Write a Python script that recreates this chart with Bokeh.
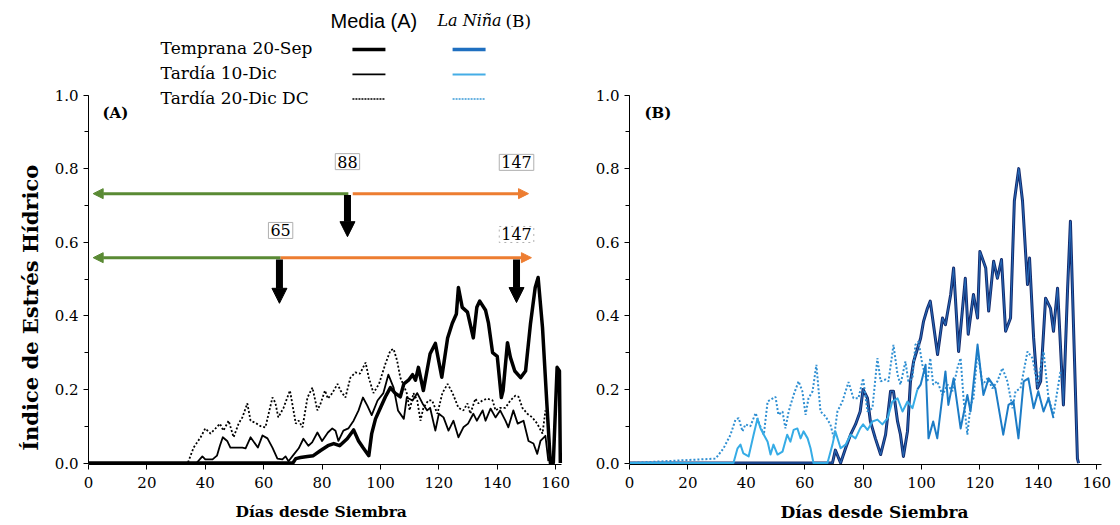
import math
from bokeh.plotting import figure
from bokeh.layouts import row
from bokeh.models import (Range1d, Label, Arrow, NormalHead, SingleIntervalTicker,
                          PrintfTickFormatter)
from bokeh.embed import file_html
from bokeh.resources import INLINE

# ---------------- data (day, stress index) ----------------
A_TEMPRANA = [(0, 0), (70, 0), (71, 0.012), (72.6, 0.015), (75, 0.018), (77, 0.02), (79.5, 0.034),
              (82, 0.047), (84, 0.053), (86, 0.047), (88.6, 0.066), (90.8, 0.09), (92.5, 0.06),
              (94, 0.042), (96, 0.02), (97, 0.08), (98.3, 0.12), (100, 0.15), (101.7, 0.18),
              (103.4, 0.205), (105, 0.19), (106.8, 0.18), (108, 0.215), (109.6, 0.225), (111, 0.24),
              (112, 0.225), (113, 0.26), (114.7, 0.197), (117, 0.297), (118.8, 0.325), (121, 0.233),
              (123, 0.34), (124.6, 0.38), (126, 0.405), (126.7, 0.477), (128, 0.423), (129.8, 0.41),
              (131.8, 0.34), (133, 0.423), (134, 0.44), (136, 0.415), (137, 0.38), (138.4, 0.30),
              (140, 0.29), (141.4, 0.178), (142, 0.197), (143.5, 0.327), (144.5, 0.287), (146, 0.25),
              (148, 0.232), (149.7, 0.25), (151.4, 0.38), (153, 0.477), (154, 0.504), (155.5, 0.368),
              (157, 0.16), (158.2, 0.0), (159.2, 0.0), (160.5, 0.26), (161.3, 0.25), (161.6, 0.0)]

A_TARDIA10 = [(0, 0), (37, 0), (39, 0.018), (40, 0.01), (42.5, 0.01), (44, 0.02), (45, 0.047),
              (46, 0.07), (47.5, 0.06), (48.6, 0.042), (50, 0.042), (52.7, 0.042), (53.8, 0.04),
              (55.5, 0.07), (58, 0.042), (59.6, 0.075), (61.3, 0.067), (63, 0.042), (64.7, 0.012),
              (66.4, 0.01), (67.5, 0.018), (68.5, 0.005), (70, 0.02), (72, 0.04), (73.6, 0.066),
              (75.3, 0.047), (76.6, 0.056), (78.4, 0.083), (80, 0.06), (82, 0.083), (83.5, 0.094),
              (84.6, 0.088), (85.6, 0.06), (87.3, 0.088), (89, 0.094), (90.8, 0.115), (92.5, 0.143),
              (94, 0.178), (95.5, 0.156), (97, 0.13), (99, 0.17), (101, 0.19), (102.7, 0.24),
              (104.5, 0.205), (106, 0.143), (108, 0.12), (109, 0.178), (111, 0.17), (112.6, 0.19),
              (114.4, 0.162), (116, 0.143), (117, 0.15), (118.8, 0.088), (120, 0.134), (121.6, 0.124),
              (123.3, 0.088), (125, 0.115), (126.7, 0.07), (128.4, 0.097), (130, 0.107), (131.8, 0.134),
              (133, 0.115), (135, 0.143), (136, 0.115), (137.7, 0.148), (139.4, 0.124), (141, 0.143),
              (142.8, 0.115), (143.8, 0.097), (145.5, 0.143), (147, 0.107), (149, 0.115), (150.7, 0.06),
              (152.4, 0.053), (153.7, 0.025), (154.8, 0.06), (156.5, 0.074), (157.5, 0.005)]

A_TARDIA20 = [(0, 0), (34, 0), (36, 0.042), (38.4, 0.07), (40, 0.094), (41.8, 0.08), (43.5, 0.094),
              (45, 0.107), (46.2, 0.088), (48, 0.115), (49.7, 0.07), (51.4, 0.107), (52.7, 0.124),
              (54.4, 0.162), (55.5, 0.115), (57, 0.11), (59, 0.1), (60.6, 0.097), (63, 0.178),
              (64, 0.164), (65, 0.124), (66.8, 0.15), (69, 0.197), (71, 0.107), (72, 0.115),
              (73.3, 0.097), (75, 0.178), (76.7, 0.205), (78.4, 0.143), (79.5, 0.162), (81, 0.197),
              (82, 0.175), (83.5, 0.19), (85.3, 0.215), (86.3, 0.197), (88, 0.178), (89.7, 0.232),
              (91.4, 0.246), (93, 0.243), (94.9, 0.273), (96, 0.232), (97.6, 0.19), (99.5, 0.215),
              (101.7, 0.27), (103.4, 0.306), (104.5, 0.31), (105.7, 0.278), (106.8, 0.232), (108, 0.21),
              (109, 0.19), (110, 0.143), (111.3, 0.19), (112.6, 0.17), (113.7, 0.115), (114.7, 0.15),
              (116.4, 0.17), (117.7, 0.17), (119.5, 0.134), (121.2, 0.19), (123, 0.215), (124.7, 0.19),
              (125.7, 0.17), (126.7, 0.15), (128.4, 0.143), (129.8, 0.162), (130.8, 0.134), (132.5, 0.175),
              (133.6, 0.162), (134.9, 0.17), (136.6, 0.175), (138.4, 0.17), (139.4, 0.143), (141, 0.15),
              (142.8, 0.15), (144.5, 0.17), (146.2, 0.183), (147.3, 0.18), (148.6, 0.15), (150.3, 0.134),
              (152, 0.124), (153.7, 0.107), (155.5, 0.08), (156.5, 0.143)]

B_TEMPRANA = [(0, 0), (69.5, 0), (70.5, 0.035), (72.3, 0), (74, 0.04), (75.7, 0.077), (77.4, 0.105),
              (79, 0.14), (80, 0.2), (81.5, 0.176), (82.5, 0.113), (84.2, 0.067), (86, 0.023),
              (87.7, 0.077), (89.4, 0.195), (90.4, 0.195), (91.8, 0.113), (92.8, 0.077), (93.8, 0.018),
              (95.2, 0.086), (96.2, 0.22), (97.3, 0.276), (98.6, 0.31), (99.7, 0.339), (100.7, 0.385),
              (102, 0.42), (103, 0.44), (105.5, 0.295), (107.2, 0.394), (108.2, 0.376), (110, 0.458),
              (111, 0.53), (112.7, 0.303), (115, 0.502), (116, 0.35), (117.8, 0.458), (119.2, 0.394),
              (120, 0.575), (122, 0.53), (123, 0.413), (124.7, 0.548), (126, 0.502), (127.4, 0.553),
              (128.8, 0.358), (130.5, 0.394), (131.8, 0.712), (133.3, 0.8), (134.6, 0.712), (136.3, 0.485),
              (137, 0.557), (138.4, 0.34), (139.7, 0.203), (140.8, 0.222), (142.5, 0.448), (144.2, 0.42),
              (145.2, 0.358), (146.6, 0.475), (148.6, 0.158), (150, 0.467), (151, 0.657), (153.4, 0.012),
              (153.8, 0)]

B_TARDIA10 = [(0, 0), (35.6, 0), (37, 0.04), (38, 0.05), (39, 0.026), (40.8, 0.018), (42.5, 0.077),
              (43.8, 0.12), (44.9, 0.094), (46, 0.077), (47.3, 0.058), (48.3, 0.023), (49.3, 0.05),
              (50.7, 0.023), (52.4, 0.031), (54, 0.077), (55.1, 0.058), (56.2, 0.09), (57.5, 0.094),
              (58.6, 0.067), (59.6, 0.086), (61, 0.067), (62, 0.04), (63, 0), (67.8, 0), (69.5, 0.05),
              (70.5, 0.086), (72.3, 0.04), (74, 0.05), (75.7, 0.077), (77.4, 0.067), (79, 0.094),
              (80, 0.105), (81.5, 0.09), (83.2, 0.113), (84.9, 0.118), (86.6, 0.105), (88.4, 0.122),
              (90, 0.167), (91.8, 0.176), (93.5, 0.14), (95.2, 0.167), (96.9, 0.149), (98.6, 0.2),
              (99.7, 0.213), (101.4, 0.267), (102.4, 0.067), (104, 0.113), (105.4, 0.067), (108.2, 0.249),
              (109.2, 0.158), (111, 0.23), (113.4, 0.094), (115.7, 0.185), (116.8, 0.14), (119.2, 0.322),
              (121.2, 0.185), (123, 0.23), (125.3, 0.203), (128, 0.077), (129.8, 0.158), (131.5, 0.167),
              (133.2, 0.067), (135, 0.222), (136.6, 0.23), (138.4, 0.149), (140, 0.195), (141.8, 0.14),
              (143.5, 0.176), (145.2, 0.122)]

B_TARDIA20 = [(0, 0), (29.5, 0.012), (32.2, 0.04), (34.6, 0.077), (36.3, 0.118), (37.4, 0.122),
              (38.7, 0.086), (39.7, 0.105), (41.4, 0.1), (43.2, 0.136), (44.5, 0.105), (46, 0.077),
              (47.3, 0.167), (48.3, 0.172), (50, 0.18), (51, 0.131), (52.4, 0.14), (53.4, 0.094),
              (54.5, 0.14), (56.2, 0.185), (57.9, 0.222), (59.2, 0.195), (60.3, 0.131), (61.3, 0.176),
              (62.7, 0.195), (64, 0.267), (65.4, 0.14), (67.1, 0.127), (68.8, 0.105), (70, 0.067),
              (71.2, 0.14), (72.9, 0.167), (75, 0.22), (76.7, 0.176), (78.4, 0.176), (80, 0.23),
              (81.5, 0.14), (83.2, 0.149), (84.9, 0.285), (86, 0.222), (87.7, 0.227), (88.7, 0.222),
              (90.4, 0.321), (91.8, 0.24), (92.8, 0.213), (94.5, 0.276), (95.5, 0.222), (96.9, 0.23),
              (97.9, 0.321), (99, 0.33), (100.3, 0.267), (102, 0.22), (103, 0.285), (104, 0.213),
              (105.4, 0.222), (107.2, 0.185), (108.9, 0.213), (110.6, 0.195), (112.3, 0.258),
              (113.4, 0.285), (114.4, 0.176), (115.7, 0.077), (116.8, 0.158), (117.8, 0.176),
              (119.2, 0.303), (120.9, 0.213), (122.6, 0.23), (124.3, 0.203), (126, 0.222), (127.7, 0.258),
              (129.4, 0.222), (131.2, 0.149), (132.2, 0.195), (133.9, 0.203), (136.3, 0.303), (138, 0.285),
              (139.7, 0.213), (141.8, 0.303), (143.5, 0.176), (145.2, 0.131), (147.6, 0.249)]

# phase markers (days) and labels
PHASE_A = {"upper_day": 88, "lower_day": 65, "end_day": 147}
X_TICK_STEP = 20
Y_TICK_STEP = 0.2
Y_TITLE = "Índice de Estrés Hídrico"
X_TITLE = "Días desde Siembra"
NB = "\u00a0"

SERIF = "DejaVu Serif"
SANS = "Liberation Sans"


def xy(series):
    return [d for d, _ in series], [v for _, v in series]


def make_fig(frame_w, left, right, xend, xbound, title, title_size):
    p = figure(frame_width=frame_w, frame_height=456, output_backend="svg", toolbar_location=None,
               x_range=Range1d(0, xend), y_range=Range1d(-0.004, 1.2351),
               min_border_left=left, min_border_right=right, min_border_top=8,
               min_border_bottom=55, background_fill_color="white")
    p.outline_line_color = None
    p.grid.visible = False
    xa = p.xaxis[0]
    xa.ticker = SingleIntervalTicker(interval=X_TICK_STEP, num_minor_ticks=0)
    xa.bounds = (0, xbound)
    xa.major_tick_in = 0
    xa.major_tick_out = 5
    xa.major_label_standoff = 7
    xa.major_label_text_font = SERIF
    xa.major_label_text_font_size = "15px"
    xa.major_label_text_color = "black"
    xa.axis_line_color = "black"
    xa.axis_label = title
    xa.axis_label_standoff = 11
    xa.axis_label_text_font = SERIF
    xa.axis_label_text_font_size = title_size
    xa.axis_label_text_font_style = "bold"
    xa.axis_label_text_color = "black"
    ya = p.yaxis[0]
    ya.ticker = SingleIntervalTicker(interval=Y_TICK_STEP, num_minor_ticks=2)
    ya.formatter = PrintfTickFormatter(format="%.1f")
    ya.bounds = (0, 1.0)
    ya.major_tick_in = 0
    ya.major_tick_out = 5
    ya.minor_tick_in = 0
    ya.minor_tick_out = 4
    ya.major_label_standoff = 5
    ya.major_label_text_font = SERIF
    ya.major_label_text_font_size = "15px"
    ya.major_label_text_color = "black"
    ya.axis_line_color = "black"
    return p


# ---------------- y-title strip ----------------
pt = figure(width=50, height=523, output_backend="svg", toolbar_location=None,
            x_axis_type=None, y_axis_type=None, x_range=Range1d(0, 50), y_range=Range1d(0, 523),
            min_border=0)
pt.outline_line_color = None
pt.grid.visible = False
pt.add_layout(Label(x=30, y=179, text=Y_TITLE, angle=math.pi / 2,
                    text_align="center", text_baseline="middle", text_color="black",
                    text_font=SERIF, text_font_size="21px", text_font_style="bold"))

# ---------------- panel A ----------------
pa = make_fig(487, 38, 15, 166.8, 162, X_TITLE + NB * 4, "15.5px")

x, y = xy(A_TARDIA20)
pa.line(x, y, line_color="black", line_width=1.8, line_dash="2 2")
x, y = xy(A_TARDIA10)
pa.line(x, y, line_color="black", line_width=1.8, line_join="round")
x, y = xy(A_TEMPRANA)
pa.line(x, y, line_color="black", line_width=3.5, line_join="round")

GREEN = "#5a8a34"
ORANGE = "#ed7d31"
for (x0, x1, yy, col) in [(89, 1.6, 0.732, GREEN), (90.5, 150.7, 0.732, ORANGE),
                           (65.8, 1.6, 0.558, GREEN), (65.8, 151.7, 0.558, ORANGE)]:
    pa.add_layout(Arrow(end=NormalHead(size=10, fill_color=col, line_color=col),
                        x_start=x0, y_start=yy, x_end=x1, y_end=yy,
                        line_color=col, line_width=3))
for (xx, y0, y1) in [(88.7, 0.728, 0.615), (65.4, 0.553, 0.434), (146.6, 0.553, 0.436)]:
    pa.add_layout(Arrow(end=NormalHead(size=15, fill_color="black", line_color="black"),
                        x_start=xx, y_start=y0, x_end=xx, y_end=y1,
                        line_color="black", line_width=7))

for (txt, xx, yy, dash) in [(str(PHASE_A["upper_day"]), 88.7, 0.819, "solid"),
                            (str(PHASE_A["end_day"]), 146.6, 0.817, "solid"),
                            (str(PHASE_A["lower_day"]), 65.8, 0.632, "solid"),
                            (str(PHASE_A["end_day"]), 146.6, 0.621, "dotted")]:
    pa.add_layout(Label(x=xx, y=yy, text=txt, text_align="center", text_baseline="middle",
                        text_font=SERIF, text_font_size="16px", text_color="black",
                        background_fill_color="white", border_line_color="#b0b0b0",
                        border_line_dash=dash, padding=2))

pa.add_layout(Label(x=4.8, y=0.95, text="(A)", text_align="left", text_baseline="middle",
                    text_color="black", text_font=SERIF, text_font_size="15px",
                    text_font_style="bold"))

# legend (drawn in panel A's upper area)
LEG_ROWS = ["Temprana 20-Sep", "Tardía 10-Dic", "Tardía 20-Dic DC"]
LEG_Y = [1.128, 1.060, 0.993]
pa.add_layout(Label(x=82.9, y=1.202, text="Media (A)", text_align="left", text_baseline="middle",
                    text_color="black", text_font=SANS, text_font_size="20px"))
pa.add_layout(Label(x=119.5, y=1.202, text="La Niña", text_align="left", text_baseline="middle",
                    text_color="black", text_font=SERIF, text_font_size="16px",
                    text_font_style="italic"))
pa.add_layout(Label(x=142.8, y=1.202, text="(B)", text_align="left", text_baseline="middle",
                    text_color="black", text_font=SERIF, text_font_size="17px"))
for name, yy in zip(LEG_ROWS, LEG_Y):
    pa.add_layout(Label(x=24.7, y=yy, text=name, text_align="left", text_baseline="middle",
                        text_color="black", text_font=SERIF, text_font_size="17px"))
black_styles = [dict(line_width=3.5), dict(line_width=1.8), dict(line_width=1.5, line_dash="2 1")]
blue_styles = [dict(line_color="#1f6fc0", line_width=3.5),
               dict(line_color="#45ade6", line_width=2),
               dict(line_color="#3a9ad8", line_width=1.5, line_dash="2 1")]
for yy, bs, cs in zip(LEG_Y, black_styles, blue_styles):
    pa.line([90.4, 101.7], [yy - 0.004, yy - 0.004], line_color="black", **bs)
    pa.line([124.7, 136.0], [yy - 0.004, yy - 0.004], **cs)

# ---------------- panel B ----------------
pb = make_fig(478, 39, 5, 163.7, 161.5, NB * 2 + X_TITLE, "17px")
x, y = xy(B_TEMPRANA)
pb.line(x, y, line_color="#13296b", line_width=3, line_join="round")
pb.line(x, y, line_color="#2a78c8", line_width=1.1, line_join="round", alpha=0.8)
x, y = xy(B_TARDIA20)
pb.line(x, y, line_color="#2f8fd2", line_width=2, line_dash="2 2")
early = [(d, v) for d, v in B_TARDIA10 if d <= 98.6]
late = [(d, v) for d, v in B_TARDIA10 if d >= 98.6]
x, y = xy(early)
pb.line(x, y, line_color="#36ace6", line_width=2, line_join="round")
x, y = xy(late)
pb.line(x, y, line_color="#1c7cc6", line_width=2, line_join="round")

pb.add_layout(Label(x=5.1, y=0.95, text="(B)", text_align="left", text_baseline="middle",
                    text_color="black", text_font=SERIF, text_font_size="15px",
                    text_font_style="bold"))

layout = row(pt, pa, pb, spacing=0)
open("out.html", "w").write(file_html(layout, INLINE))
